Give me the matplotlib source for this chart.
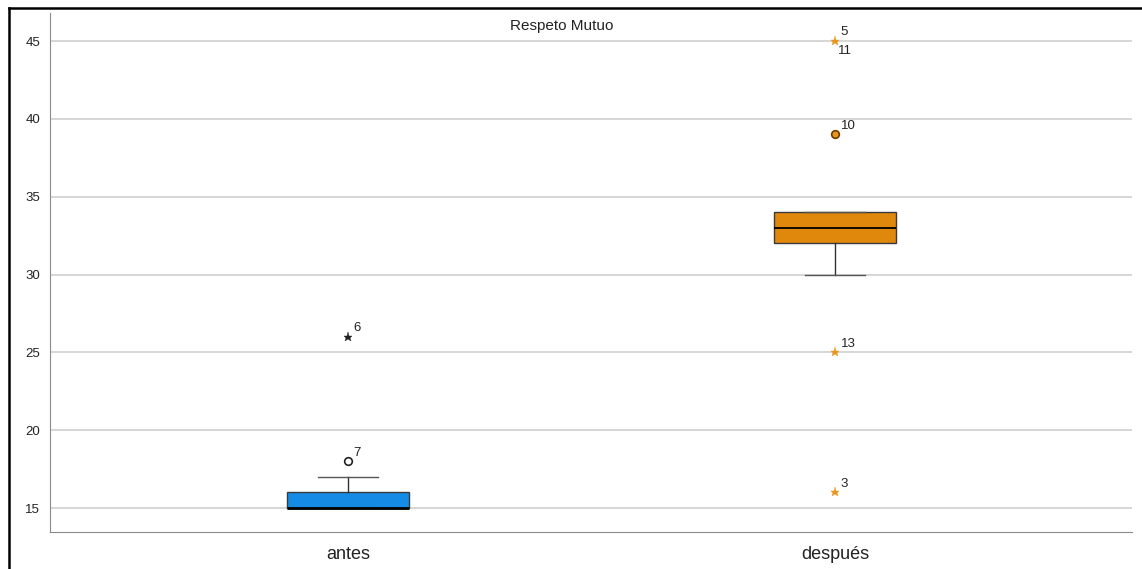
import matplotlib.pyplot as plt
from matplotlib.lines import Line2D

plt.rcParams['font.family'] = ['Liberation Sans', 'DejaVu Sans']

categories = ['antes', 'después']
q1 = [15, 32]
medians = [15, 33]
q3 = [16, 34]
whisker_low = [15, 30]
whisker_high = [17, 34]
box_colors = ['#168be6', '#e0880c']

# outliers: (group index, value, kind, label)
outlier_group = [0, 0, 1, 1, 1, 1]
outlier_value = [18, 26, 39, 45, 25, 16]
outlier_kind = ['circle', 'star', 'circle', 'star', 'star', 'star']
outlier_labels = ['7', '6', '10', '5', '13', '3']
extra_label_below = {3: '11'}

fig = plt.figure(figsize=(11.42, 5.69), dpi=100)
ax = fig.add_axes([50 / 1142, 37 / 569, 1082 / 1142, 519 / 569])

stats = []
for i, name in enumerate(categories):
    stats.append(dict(label=name, med=medians[i], q1=q1[i], q3=q3[i],
                      whislo=whisker_low[i], whishi=whisker_high[i], fliers=[]))

bp = ax.bxp(stats, positions=[1, 2], widths=0.25, patch_artist=True,
            showfliers=False,
            boxprops=dict(edgecolor='#3a3a3a', linewidth=1.0),
            medianprops=dict(color='black', linewidth=1.3),
            whiskerprops=dict(color='#333333', linewidth=1.0),
            capprops=dict(color='#555555', linewidth=1.0),
            capwidths=0.125)
for patch, c in zip(bp['boxes'], box_colors):
    patch.set_facecolor(c)
bp['medians'][0].set_linewidth(2.0)

for k in range(len(outlier_value)):
    g = outlier_group[k]
    x = g + 1
    y = outlier_value[k]
    if g == 0:
        col_face = 'white' if outlier_kind[k] == 'circle' else '#222222'
        col_edge = '#222222'
    else:
        col_face = '#e8961e'
        col_edge = '#6a3d00' if outlier_kind[k] == 'circle' else '#e8961e'
    if outlier_kind[k] == 'circle':
        ax.plot(x, y, marker='o', ms=5.5, mfc=col_face, mec=col_edge, mew=1.2,
                ls='none', zorder=5)
    else:
        ax.plot(x, y, marker='*', ms=6.5, mfc=col_face, mec=col_edge, mew=0.3,
                ls='none', zorder=5)
    ax.annotate(outlier_labels[k], (x, y), xytext=(4, 2), textcoords='offset points',
                fontsize=9.5, color='#222222', ha='left', va='bottom')
    if k in extra_label_below:
        ax.annotate(extra_label_below[k], (x, y), xytext=(2, -3), textcoords='offset points',
                    fontsize=9.5, color='#222222', ha='left', va='top')

ax.set_xlim(0.388, 2.61)
ax.set_ylim(13.46, 46.8)
ax.set_yticks([15, 20, 25, 30, 35, 40, 45])
ax.set_xticks([1, 2])
ax.set_xticklabels(categories, fontsize=13, color='#222222')
ax.tick_params(axis='y', length=0, labelsize=9.5, colors='#222222', pad=7)
ax.tick_params(axis='x', length=0, pad=10)
ax.yaxis.grid(True, color='#cfcfcf', linewidth=1.2)
ax.set_axisbelow(True)
for side in ['top', 'right']:
    ax.spines[side].set_visible(False)
ax.spines['left'].set_color('#8a8a8a')
ax.spines['bottom'].set_color('#8a8a8a')

fig.text(562 / 1142, 1 - 26 / 569, 'Respeto Mutuo', ha='center', va='center',
         fontsize=11, color='#222222')

# outer frame (left and top edges)
fig.add_artist(Line2D([9 / 1142, 9 / 1142], [0, 1 - 8 / 569], color='black', lw=1.8,
                      transform=fig.transFigure))
fig.add_artist(Line2D([9 / 1142, 1], [1 - 8 / 569, 1 - 8 / 569], color='black', lw=1.8,
                      transform=fig.transFigure))

fig.savefig('out.png', dpi=100)
